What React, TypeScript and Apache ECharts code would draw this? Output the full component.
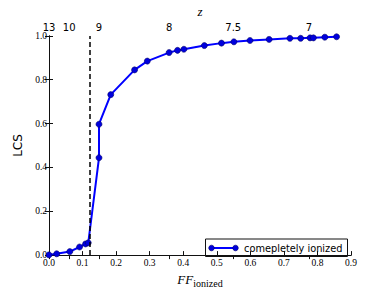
import React, { useEffect, useRef } from "react";
import * as echarts from "echarts";

const ffValues = [0, 0.023, 0.062, 0.091, 0.109, 0.117, 0.149, 0.149, 0.184, 0.255, 0.293, 0.358, 0.383, 0.402, 0.463, 0.514, 0.551, 0.599, 0.656, 0.718, 0.75, 0.778, 0.788, 0.822, 0.857];
const lcsValues = [0.001, 0.006, 0.016, 0.037, 0.051, 0.056, 0.444, 0.597, 0.732, 0.845, 0.885, 0.924, 0.934, 0.939, 0.956, 0.967, 0.973, 0.979, 0.984, 0.989, 0.989, 0.991, 0.991, 0.994, 0.996];
const zLabels = ["13", "10", "9", "8", "7.5", "7"];
const zPositions = [0, 0.06, 0.149, 0.358, 0.549, 0.775];
const dashedFF = 0.117;
const seriesName = "comepletely ionized";

const SERIF = "'Liberation Serif', 'Times New Roman', serif";
const SANS = "'DejaVu Sans', sans-serif";

export default function App() {
  const ref = useRef<HTMLDivElement>(null);
  useEffect(() => {
    if (!ref.current) return;
    const chart = echarts.init(ref.current, null, { renderer: "svg" });
    const data = ffValues.map((x, i) => [x, lcsValues[i]]);
    const axisLine = { show: true, lineStyle: { color: "#111", width: 1 } };
    const tick = { show: true, inside: true, length: 4, lineStyle: { color: "#111", width: 1 } };
    chart.setOption({
      animation: false,
      backgroundColor: "#fff",
      grid: { left: 49, right: 39, top: 29, bottom: 30, containLabel: false },
      xAxis: [
        {
          type: "value",
          position: "bottom",
          min: 0,
          max: 0.9,
          interval: 0.1,
          axisLine,
          axisTick: tick,
          splitLine: { show: false },
          axisLabel: {
            margin: 3,
            fontFamily: SERIF,
            fontSize: 9.5,
            color: "#000",
            formatter: (v: number) => v.toFixed(1),
          },
          name: "{a|FF}{b|ionized}",
          nameLocation: "middle",
          nameGap: 9,
          nameTextStyle: {
            rich: {
              a: { fontFamily: SERIF, fontStyle: "italic", fontSize: 13, color: "#000", verticalAlign: "top" },
              b: { fontFamily: SERIF, fontSize: 10, color: "#000", verticalAlign: "top", padding: [5, 0, 0, 0] },
            },
          },
        },
        {
          type: "value",
          position: "top",
          min: 0,
          max: 0.9,
          axisLine,
          axisTick: { ...tick, customValues: zPositions },
          splitLine: { show: false },
          axisLabel: {
            margin: 3,
            fontFamily: SANS,
            fontSize: 10,
            color: "#000",
            customValues: zPositions,
            formatter: (v: number) => {
              let best = 0;
              zPositions.forEach((p, i) => {
                if (Math.abs(p - v) < Math.abs(zPositions[best] - v)) best = i;
              });
              return zLabels[best];
            },
          },
          name: "z",
          nameLocation: "middle",
          nameGap: 17,
          nameTextStyle: { fontFamily: SERIF, fontStyle: "italic", fontSize: 13, color: "#000" },
        },
      ],
      yAxis: [
        {
          type: "value",
          position: "left",
          min: 0,
          max: 1,
          interval: 0.2,
          axisLine,
          axisTick: tick,
          splitLine: { show: false },
          axisLabel: {
            margin: 2,
            fontFamily: SERIF,
            fontSize: 9.5,
            color: "#000",
            formatter: (v: number) => v.toFixed(1),
          },
          name: "LCS",
          nameLocation: "middle",
          nameGap: 21,
          nameTextStyle: { fontFamily: SANS, fontSize: 12, color: "#000" },
        },
        {
          type: "value",
          position: "right",
          min: 0,
          max: 1,
          interval: 0.2,
          axisLine,
          axisTick: tick,
          splitLine: { show: false },
          axisLabel: { show: false },
        },
      ],
      series: [
        {
          name: seriesName,
          type: "line",
          xAxisIndex: 0,
          yAxisIndex: 0,
          data,
          symbol: "circle",
          symbolSize: 6,
          lineStyle: { color: "#0000ff", width: 2 },
          itemStyle: { color: "#0000dd", borderColor: "#000066", borderWidth: 0.6 },
          markLine: {
            silent: true,
            symbol: ["none", "none"],
            label: { show: false },
            lineStyle: { color: "#000", type: [5, 3], width: 1.5 },
            data: [{ xAxis: dashedFF }],
          },
          z: 3,
        },
      ],
      graphic: [
        {
          type: "group",
          left: 205,
          top: 238.5,
          children: [
            { type: "rect", shape: { x: 0, y: 0, width: 142, height: 17.5 }, style: { fill: "#fff", stroke: "#111", lineWidth: 1 } },
            { type: "line", shape: { x1: 6, y1: 9, x2: 30, y2: 9 }, style: { stroke: "#0000ff", lineWidth: 2 } },
            { type: "circle", shape: { cx: 6, cy: 9, r: 2.8 }, style: { fill: "#0000dd", stroke: "#000066", lineWidth: 0.6 } },
            { type: "circle", shape: { cx: 30, cy: 9, r: 2.8 }, style: { fill: "#0000dd", stroke: "#000066", lineWidth: 0.6 } },
            { type: "text", x: 38.5, y: 9, style: { text: seriesName, fontFamily: SANS, fontSize: 9.8, fill: "#000", textVerticalAlign: "middle", verticalAlign: "middle" } },
          ],
        },
      ],
    });
    return () => chart.dispose();
  }, []);
  return <div ref={ref} style={{ position: "fixed", left: 0, top: 0, width: 390, height: 293 }} />;
}
